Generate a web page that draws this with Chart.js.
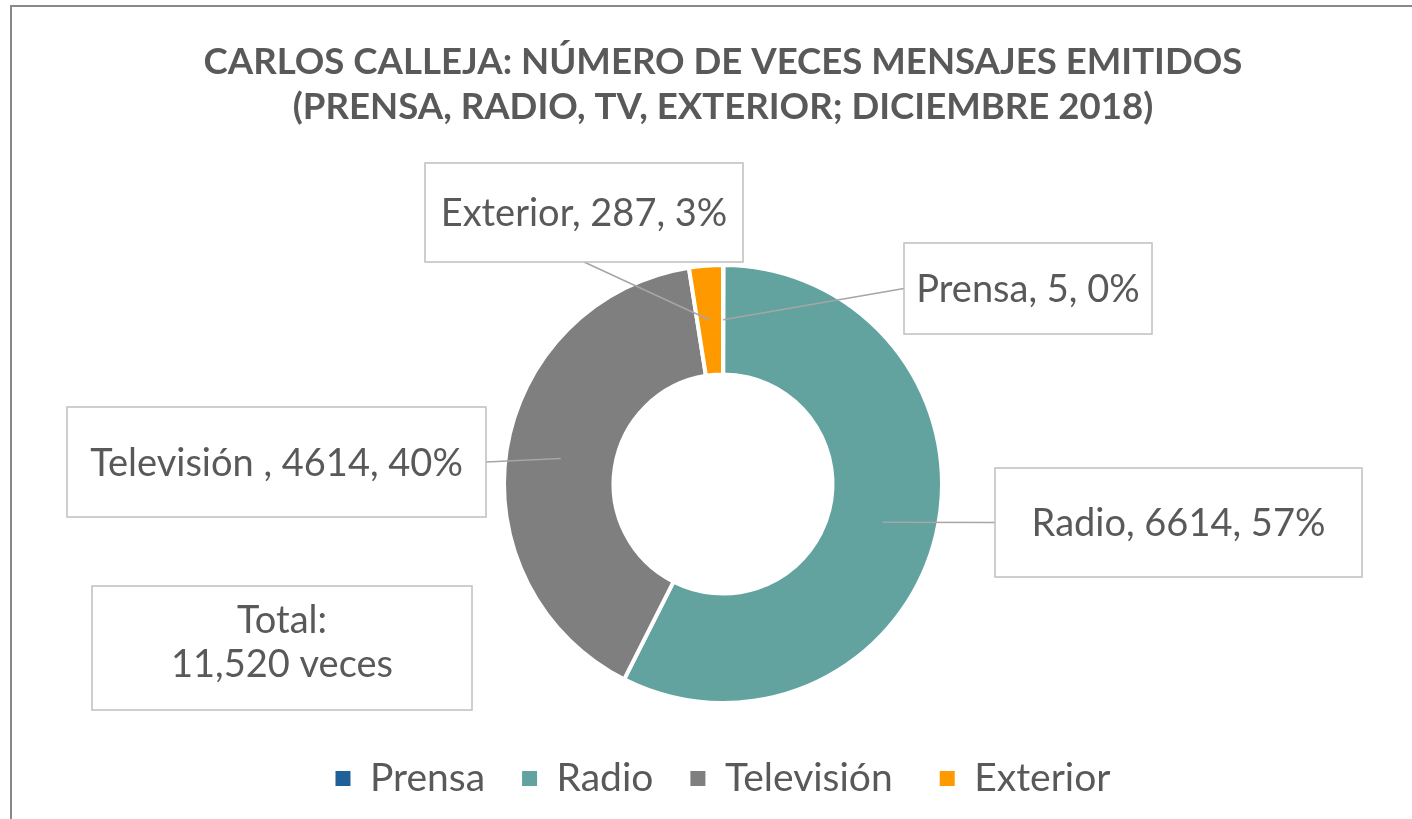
<!DOCTYPE html>
<html>
<head>
<meta charset="utf-8">
<script src="https://cdn.jsdelivr.net/npm/chart.js@4.4.1/dist/chart.umd.min.js"></script>
<style>
  html, body { margin: 0; padding: 0; background: #ffffff; width: 1412px; height: 819px; overflow: hidden; }
  #frame { position: absolute; left: 10px; top: 5px; width: 1500px; height: 900px; border: 2px solid #898989; box-sizing: border-box; }
  #wrap { position: absolute; left: 0; top: 0; width: 1412px; height: 819px; }
</style>
</head>
<body>
<div id="frame"></div>
<div id="wrap"><canvas id="c" width="1412" height="819"></canvas></div>
<script>
// ---- data ----
const categories = ['Prensa', 'Radio', 'Televisión ', 'Exterior'];
const values = [5, 6614, 4614, 287];
const titleLines = ['CARLOS CALLEJA: NÚMERO DE VECES MENSAJES EMITIDOS', '(PRENSA, RADIO, TV, EXTERIOR; DICIEMBRE 2018)'];
const totalCaption = 'Total:';
const totalUnit = 'veces';

// ---- style / layout ----
const sliceColors = ['#1F6098', '#62A39F', '#7F7F7F', '#FF9900'];
const textColor = '#595959';
const fontFamily = 'Lato, "DejaVu Sans", sans-serif';
const labelFontSize = 38;
// callout boxes (x, y, w, h) and the side where the leader line attaches
const labelBoxes = [
  { x: 904, y: 243, w: 248, h: 91, anchor: 'left' },
  { x: 995, y: 468, w: 367, h: 109, anchor: 'left' },
  { x: 67, y: 407, w: 419, h: 110, anchor: 'right' },
  { x: 425, y: 163, w: 318, h: 99, anchor: 'bottom' }
];
const totalBox = { x: 92, y: 586, w: 380, h: 124 };

function excelPercents(vals) {
  const tot = vals.reduce((a, b) => a + b, 0);
  const raw = vals.map(v => v / tot * 100);
  const fl = raw.map(Math.floor);
  const rem = 100 - fl.reduce((a, b) => a + b, 0);
  const order = raw.map((r, i) => [r - fl[i], i]).sort((a, b) => b[0] - a[0]);
  for (let k = 0; k < rem; k++) fl[order[k][1]]++;
  return fl;
}

const calloutPlugin = {
  id: 'callouts',
  afterDatasetsDraw(chart) {
    const ctx = chart.ctx;
    const meta = chart.getDatasetMeta(0);
    const pcts = excelPercents(values);
    const total = values.reduce((a, b) => a + b, 0);
    ctx.save();
    // leader lines
    ctx.strokeStyle = '#A6A6A6';
    ctx.lineWidth = 1.5;
    meta.data.forEach((arc, i) => {
      const p = arc.tooltipPosition();
      const b = labelBoxes[i];
      let ax, ay;
      if (b.anchor === 'left') { ax = b.x; ay = b.y + b.h / 2; }
      else if (b.anchor === 'right') { ax = b.x + b.w; ay = b.y + b.h / 2; }
      else if (b.anchor === 'bottom') { ax = b.x + b.w / 2; ay = b.y + b.h; }
      else { ax = b.x + b.w / 2; ay = b.y; }
      ctx.beginPath();
      ctx.moveTo(p.x, p.y);
      ctx.lineTo(ax, ay);
      ctx.stroke();
    });
    // boxes + texts
    const drawBox = (b) => {
      ctx.fillStyle = '#ffffff';
      ctx.fillRect(b.x, b.y, b.w, b.h);
      ctx.strokeStyle = '#BFBFBF';
      ctx.lineWidth = 1.5;
      ctx.strokeRect(b.x, b.y, b.w, b.h);
    };
    ctx.font = `normal ${labelFontSize}px ${fontFamily}`;
    ctx.textAlign = 'center';
    ctx.textBaseline = 'alphabetic';
    const capHalf = labelFontSize * 0.717 / 2;
    labelBoxes.forEach((b, i) => {
      drawBox(b);
      ctx.fillStyle = textColor;
      const txt = `${categories[i]}, ${values[i]}, ${pcts[i]}%`;
      ctx.fillText(txt, b.x + b.w / 2, b.y + b.h / 2 + capHalf);
    });
    drawBox(totalBox);
    ctx.fillStyle = textColor;
    const cx = totalBox.x + totalBox.w / 2;
    const cy = totalBox.y + totalBox.h / 2;
    ctx.fillText(totalCaption, cx, cy - 15);
    ctx.fillText(`${total.toLocaleString('en-US')} ${totalUnit}`, cx, cy + 29);
    ctx.restore();
  }
};

new Chart(document.getElementById('c'), {
  type: 'doughnut',
  data: {
    labels: categories,
    datasets: [{
      data: values,
      backgroundColor: sliceColors,
      borderColor: '#ffffff',
      borderWidth: 4
    }]
  },
  options: {
    responsive: false,
    animation: false,
    events: [],
    cutout: '50%',
    radius: 219,
    layout: { padding: { left: 34, right: 0, top: 0, bottom: 11 } },
    plugins: {
      title: {
        display: true,
        text: titleLines,
        color: textColor,
        font: { family: fontFamily, size: 36.6, weight: 'bold', lineHeight: '45px' },
        padding: { top: 40, bottom: 116 }
      },
      legend: {
        position: 'bottom',
        labels: {
          color: textColor,
          font: { family: fontFamily, size: 39 },
          boxWidth: 15,
          boxHeight: 15,
          padding: 37,
          generateLabels(chart) {
            const base = Chart.overrides.doughnut.plugins.legend.labels.generateLabels(chart);
            return base.map(l => Object.assign(l, { lineWidth: 0, strokeStyle: 'rgba(0,0,0,0)' }));
          }
        }
      },
      tooltip: { enabled: false }
    }
  },
  plugins: [calloutPlugin]
});
</script>
</body>
</html>
